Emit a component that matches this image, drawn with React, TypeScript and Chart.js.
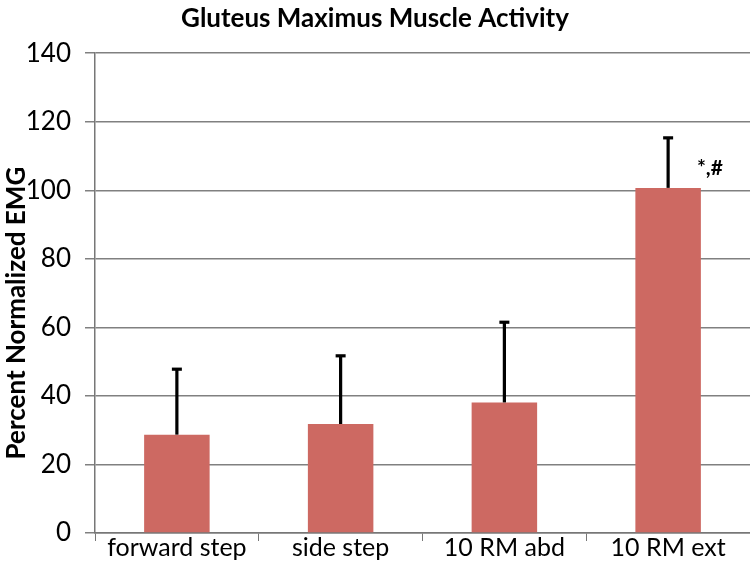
import React, { useEffect, useRef } from "react";
import { Chart, registerables } from "chart.js";

Chart.register(...registerables);

const categories = ["forward step", "side step", "10 RM abd", "10 RM ext"];
const meanValues = [28.7, 31.8, 38.1, 100.7];
const sdValues = [19.1, 19.9, 23.4, 14.6];
const significance = ["", "", "", "*,#"];
const yMin = 0;
const yMax = 140;
const yStep = 20;
const yAxisTitle = "Percent Normalized EMG";

const FONT = "Lato, 'Open Sans', sans-serif";

const errorBarPlugin = {
  id: "errorBars",
  afterDatasetsDraw(chart: any) {
    const ctx = chart.ctx;
    const meta = chart.getDatasetMeta(0);
    const yScale = chart.scales.y;
    ctx.save();
    meta.data.forEach((el: any, i: number) => {
      const top = yScale.getPixelForValue(meanValues[i] + sdValues[i]);
      const x = el.x;
      ctx.strokeStyle = "#000";
      ctx.lineWidth = 3.2;
      ctx.beginPath();
      ctx.moveTo(x, el.y);
      ctx.lineTo(x, top);
      ctx.stroke();
      ctx.beginPath();
      ctx.moveTo(x - 5, top);
      ctx.lineTo(x + 5, top);
      ctx.stroke();
      if (significance[i]) {
        ctx.fillStyle = "#000";
        ctx.font = `bold 21px ${FONT}`;
        ctx.textAlign = "left";
        ctx.textBaseline = "middle";
        const ty = yScale.getPixelForValue(meanValues[i] + sdValues[i] * 0.4);
        ctx.fillText(significance[i], x + el.width / 2 - 4, ty);
      }
    });
    ctx.restore();
  },
};

const yTitlePlugin = {
  id: "yTitle",
  afterDraw(chart: any) {
    const { ctx, chartArea } = chart;
    ctx.save();
    ctx.fillStyle = "#000";
    ctx.font = `bold 26px ${FONT}`;
    ctx.textAlign = "center";
    ctx.textBaseline = "middle";
    ctx.translate(17, (chartArea.top + chartArea.bottom) / 2 + 20);
    ctx.rotate(-Math.PI / 2);
    ctx.fillText(yAxisTitle, 0, 0);
    ctx.restore();
  },
};

export default function App() {
  const canvasRef = useRef<HTMLCanvasElement | null>(null);

  useEffect(() => {
    if (!canvasRef.current) return;
    const chart = new Chart(canvasRef.current, {
      type: "bar",
      data: {
        labels: categories,
        datasets: [
          {
            data: meanValues,
            backgroundColor: "#CD6962",
            borderWidth: 0,
            categoryPercentage: 1,
            barPercentage: 0.4,
          },
        ],
      },
      options: {
        animation: false,
        responsive: false,
        maintainAspectRatio: false,
        layout: { padding: 0 },
        plugins: {
          legend: { display: false },
          tooltip: { enabled: false },
          title: {
            display: true,
            text: "Gluteus Maximus Muscle Activity",
            color: "#000",
            font: { family: FONT, size: 26, weight: "bold" },
            padding: { top: 3, bottom: 19 },
          },
        },
        scales: {
          x: {
            grid: {
              display: true,
              drawOnChartArea: false,
              drawTicks: true,
              tickLength: 8,
              color: "#777",
              offset: true,
            },
            border: { display: true, color: "#777", width: 1.5 },
            ticks: {
              color: "#000",
              font: { family: FONT, size: 25 },
              padding: -8,
              maxRotation: 0,
            },
            afterFit(scale: any) {
              scale.height = 47;
            },
          },
          y: {
            min: yMin,
            max: yMax,
            ticks: {
              stepSize: yStep,
              color: "#000",
              font: { family: FONT, size: 26 },
              padding: 14,
            },
            grid: {
              color: "#808080",
              lineWidth: 1.5,
              tickLength: 10,
              drawTicks: true,
            },
            border: { display: true, color: "#777", width: 1.5 },
            afterFit(scale: any) {
              scale.width = 95;
            },
          },
        },
      },
      plugins: [errorBarPlugin, yTitlePlugin],
    });
    return () => chart.destroy();
  }, []);

  return (
    <div style={{ position: "absolute", left: 0, top: 0, width: 750, height: 580, background: "#fff" }}>
      <canvas ref={canvasRef} width={750} height={580} style={{ width: 750, height: 580 }} />
    </div>
  );
}
